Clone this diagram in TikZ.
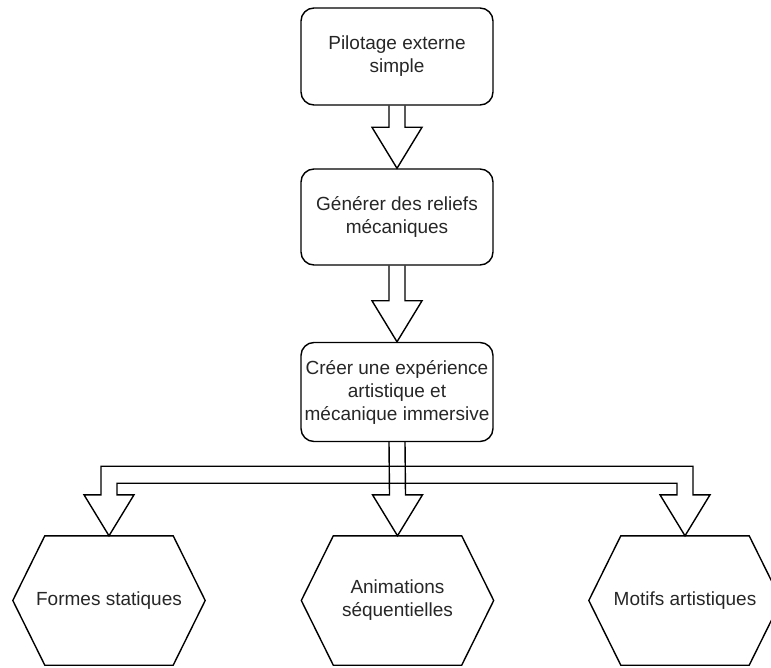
\documentclass[tikz,border=0pt]{standalone}
\usepackage{fontspec}
\setmainfont{Liberation Sans}
\usetikzlibrary{calc}
\begin{document}
\begin{tikzpicture}[x=1pt,y=-1pt,
  every node/.style={font=\fontsize{19pt}{23pt}\selectfont, text=black!85, align=center, inner sep=0pt},
  stepbox/.style={draw, line width=1.4pt, rounded corners=13pt, minimum width=192pt, minimum height=97pt},
  hexslot/.style={minimum width=192pt, minimum height=129pt},
  fat/.style={draw, line width=1.4pt, line join=miter, fill=none},
  hexline/.style={draw, line width=1.4pt, line join=miter}]
\useasboundingbox (0,0) rectangle (771,668);

% process boxes
\node[stepbox] (b1) at (397,56.5) {Pilotage externe\\simple};
\node[stepbox, minimum height=96pt] (b2) at (397,217) {Générer des reliefs\\mécaniques};
\node[stepbox, minimum height=99pt] (b3) at (397,392) {Créer une expérience\\artistique et\\mécanique immersive};

% hexagon outcome slots
\node[hexslot] (h1) at (109,600.5) {Formes statiques};
\node[hexslot] (h2) at (397.5,600.5) {Animations\\séquentielles};
\node[hexslot] (h3) at (685,600.5) {Motifs artistiques};
\foreach \h in {h1,h2,h3}{
  \draw[hexline] (\h.west) -- ($(\h.north west)+(32,0)$) -- ($(\h.north east)+(-32,0)$)
    -- (\h.east) -- ($(\h.south east)+(-32,0)$) -- ($(\h.south west)+(32,0)$) -- cycle;
}

% hollow block arrows between the boxes
\foreach \a/\b in {b1/b2, b2/b3, b3/h2}{
  \draw[fat] ($(\a.south)+(-8,0)$) -- ($(\b.north)+(-8,-41)$) -- ($(\b.north)+(-25,-41)$)
    -- (\b.north) -- ($(\b.north)+(25,-41)$) -- ($(\b.north)+(8,-41)$) -- ($(\a.south)+(8,0)$);
}

% side branches off the last box
\coordinate (jo) at ($(b3.south)+(0,24)$);
\coordinate (ji) at ($(b3.south)+(0,41)$);
\draw[fat] (jo) -- ($(jo -| h1.north)+(-8,0)$) -- ($(h1.north)+(-8,-41)$) -- ($(h1.north)+(-25,-41)$)
  -- (h1.north) -- ($(h1.north)+(25,-41)$) -- ($(h1.north)+(8,-41)$) -- ($(ji -| h1.north)+(8,0)$) -- (ji);
\draw[fat] (jo) -- ($(jo -| h3.north)+(8,0)$) -- ($(h3.north)+(8,-41)$) -- ($(h3.north)+(25,-41)$)
  -- (h3.north) -- ($(h3.north)+(-25,-41)$) -- ($(h3.north)+(-8,-41)$) -- ($(ji -| h3.north)+(-8,0)$) -- (ji);
\end{tikzpicture}
\end{document}
